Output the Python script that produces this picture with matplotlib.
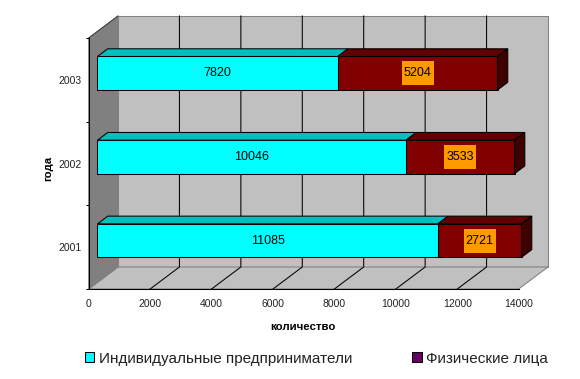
import matplotlib.pyplot as plt
from matplotlib.patches import Patch, Polygon, Rectangle

plt.rcParams['font.family'] = ['Liberation Sans', 'DejaVu Sans']

# Data
years = ["2001", "2002", "2003"]
entrepreneurs = [11085, 10046, 7820]
individuals = [2721, 3533, 5204]
x_ticks = [0, 2000, 4000, 6000, 8000, 10000, 12000, 14000]
legend_labels = ["Индивидуальные предприниматели", "Физические лица"]

# Fake 3D: how far the back wall is shifted from the front plane, in data units
depth_x = 954
depth_y = 0.263
bar_front = 0.3
bar_back = 0.65
bar_h = 0.40
xmax = 14000
ymin, ymax = -0.5, 2.5
lw = 0.75


def shift(x, y, d):
    return (x + d * depth_x, y + d * depth_y)


fig = plt.figure(figsize=(5.8, 3.79), dpi=100)
ax = fig.add_axes([88.7 / 580, 1 - 289 / 379, 430 / 580, 251 / 379])
ax.set_xlim(0, xmax)
ax.set_ylim(ymin, ymax)
ax.patch.set_visible(False)

# Walls and floor
back = [shift(0, ymin, 1), shift(xmax, ymin, 1), shift(xmax, ymax, 1), shift(0, ymax, 1)]
side = [(0, ymin), (0, ymax), shift(0, ymax, 1), shift(0, ymin, 1)]
floor = [(0, ymin), (xmax, ymin), shift(xmax, ymin, 1), shift(0, ymin, 1)]
ax.add_patch(Polygon(back, fc='#C0C0C0', ec='#808080', lw=lw, clip_on=False, zorder=1))
ax.add_patch(Polygon(floor, fc='#C0C0C0', ec='#808080', lw=lw, clip_on=False, zorder=1))
ax.add_patch(Polygon(side, fc='#808080', ec='#808080', lw=lw, clip_on=False, zorder=1))

# Grid on back wall and floor
for t in x_ticks[1:-1]:
    x0, y0 = shift(t, ymin, 0)
    x1, y1 = shift(t, ymin, 1)
    x2, y2 = shift(t, ymax, 1)
    ax.plot([x0, x1, x2], [y0, y1, y2], color='black', lw=lw, clip_on=False, zorder=2)
x1, y1 = shift(0, ymax, 1)
ax.plot([0, x1], [ymax, y1], color='#404040', lw=lw, clip_on=False, zorder=2)

# Bars
for i in range(len(years)):
    a = entrepreneurs[i]
    b = individuals[i]
    left, yc = shift(0, i, bar_front)
    y_top = yc + bar_h / 2
    y_bot = yc - bar_h / 2
    off_x = (bar_back - bar_front) * depth_x
    off_y = (bar_back - bar_front) * depth_y

    ax.barh(yc, a, height=bar_h, left=left, color='#00FFFF', edgecolor='black',
            lw=lw, clip_on=False, zorder=3)
    ax.barh(yc, b, height=bar_h, left=left + a, color='#800000', edgecolor='black',
            lw=lw, clip_on=False, zorder=3)
    top_a = [(left, y_top), (left + a, y_top), (left + a + off_x, y_top + off_y), (left + off_x, y_top + off_y)]
    top_b = [(left + a, y_top), (left + a + b, y_top), (left + a + b + off_x, y_top + off_y), (left + a + off_x, y_top + off_y)]
    end = [(left + a + b, y_top), (left + a + b + off_x, y_top + off_y),
           (left + a + b + off_x, y_bot + off_y), (left + a + b, y_bot)]
    ax.add_patch(Polygon(top_a, fc='#00BFBF', ec='black', lw=lw, clip_on=False, zorder=3))
    ax.add_patch(Polygon(top_b, fc='#600000', ec='black', lw=lw, clip_on=False, zorder=3))
    ax.add_patch(Polygon(end, fc='#400000', ec='black', lw=lw, clip_on=False, zorder=3))

    # value labels, the orange boxes have the same size for all bars
    ax.text(left + a / 2, yc, str(a), ha='center', va='center', fontsize=9, zorder=5)
    xc = left + a + b / 2
    ax.add_patch(Rectangle((xc - 521, yc - 0.143), 1042, 0.286, fc='#FF9900', ec='none', zorder=4))
    ax.text(xc, yc, str(b), ha='center', va='center', fontsize=9, zorder=5)

# Axes
for s in ['top', 'right']:
    ax.spines[s].set_visible(False)
for s in ['left', 'bottom']:
    ax.spines[s].set_linewidth(lw)
    ax.spines[s].set_zorder(2.5)

ax.set_xticks(x_ticks)
ax.set_xticklabels(x_ticks, fontsize=7.5, color='#222222')
ax.tick_params(axis='x', length=0, pad=7)
ax.set_yticks([-0.5, 0.5, 1.5, 2.5])
ax.set_yticklabels([])
ax.tick_params(axis='y', which='major', length=2.4, width=lw)
ax.set_yticks([0, 1, 2], minor=True)
ax.set_yticklabels(years, minor=True, fontsize=7.5, color='#222222')
ax.tick_params(axis='y', which='minor', length=0, pad=5)

ax.set_xlabel("количество", fontsize=8.2, fontweight='bold', va='center')
ax.xaxis.set_label_coords(0.498, -0.151)
ax.set_ylabel("года", fontsize=8.2, fontweight='bold', va='center')
ax.yaxis.set_label_coords(-0.095, 0.482)

handles = [Patch(fc='#00FFFF', ec='black', lw=lw), Patch(fc='#660066', ec='black', lw=lw)]
fig.legend(handles, legend_labels, loc='center left', bbox_to_anchor=(84.5 / 580, 1 - 358.5 / 379),
           ncol=2, frameon=False, fontsize=11, handlelength=0.65, handleheight=0.62,
           handletextpad=0.3, columnspacing=3.9, borderpad=0, borderaxespad=0, labelcolor='#222222')

fig.savefig("out.png", dpi=100)
